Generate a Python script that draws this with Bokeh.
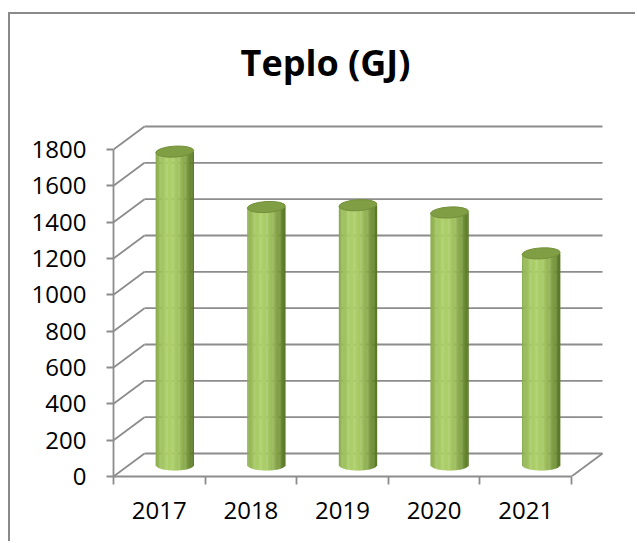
import numpy as np
from bokeh.plotting import figure
from bokeh.models import Range1d, FixedTicker, ColumnDataSource
from bokeh.core.properties import value
from bokeh.embed import file_html
from bokeh.resources import INLINE

# ---- data ----
years = ["2017", "2018", "2019", "2020", "2021"]
values = [1725, 1420, 1430, 1390, 1165]
y_ticks = [0, 200, 400, 600, 800, 1000, 1200, 1400, 1600, 1800]
title_text = "Teplo (GJ)"

# ---- layout (pixels) ----
W, H = 627, 529
MB_L, MB_R, MB_T, MB_B = 103, 32, 10, 67
frame_w = W - MB_L - MB_R
frame_h = H - MB_T - MB_B
PX_CAT = 91.6            # px per category
PY = 327.0 / 1800.0      # px per value unit
x_start = -0.5
x_end = x_start + frame_w / PX_CAT
y_end = frame_h / PY

DX = 31.0 / PX_CAT       # depth offset in x units
DY = 23.0 / PY           # depth offset in y units

TITLE_CX = 315           # title centre, canvas px
TITLE_BASE = 48          # title anchor, canvas px

GRID = "#8c8c8c"

p = figure(width=W, height=H, output_backend="svg", toolbar_location=None,
           x_range=Range1d(x_start, x_end), y_range=Range1d(0, y_end),
           min_border_left=MB_L, min_border_right=MB_R,
           min_border_top=MB_T, min_border_bottom=MB_B)
p.styles = {"border-left": "2px solid #8a8a8a", "border-top": "2px solid #8a8a8a"}
p.margin = (12, 0, 0, 8)
p.outline_line_color = None
p.xgrid.visible = False
p.ygrid.visible = False
p.background_fill_color = "white"
p.border_fill_color = "white"

# ---- title ----
p.text(x=[x_start + (TITLE_CX - MB_L) / PX_CAT],
       y=[(H - MB_B - TITLE_BASE) / PY],
       text=[title_text], text_align="center", text_baseline="alphabetic",
       text_font=value("Open Sans"), text_font_style="bold",
       text_font_size="36px", text_color="black")

# ---- 3D walls ----
n = len(years)
xl = x_start
xr = x_start + n
wall = ColumnDataSource(dict(
    x0=[xl] * len(y_ticks), y0=y_ticks,
    x1=[xl + DX] * len(y_ticks), y1=[v + DY for v in y_ticks]))
p.segment("x0", "y0", "x1", "y1", source=wall, line_color=GRID, line_width=1.8)
back = ColumnDataSource(dict(
    x0=[xl + DX] * len(y_ticks), y0=[v + DY for v in y_ticks],
    x1=[xr + DX] * len(y_ticks), y1=[v + DY for v in y_ticks]))
p.segment("x0", "y0", "x1", "y1", source=back, line_color=GRID, line_width=1.8)
p.segment(x0=[xr], y0=[y_ticks[0]], x1=[xr + DX], y1=[y_ticks[0] + DY],
          line_color=GRID, line_width=1.8)

# ---- cylinders ----
BW = 38.0 / PX_CAT
EH = 11.0  # ellipse height px
N = 32
dark = np.array([0x5a, 0x78, 0x26], float)
light = np.array([0xad, 0xcf, 0x6a], float)

def shade(u):
    f = np.cos((u + 0.25) * np.pi / 2 * 0.85)
    f = max(0.0, f) ** 0.9
    c = dark + (light - dark) * f
    return "#%02x%02x%02x" % tuple(int(round(t)) for t in c)

sx, sb, st, sc = [], [], [], []
centers = [i + DX / 2 for i in range(n)]
base = DY / 2
for c, v in zip(centers, values):
    for k in range(N):
        u = -1 + (2 * k + 1) / N
        sx.append(c + u * BW / 2)
        sb.append(base - (EH / 2 / PY) * np.sqrt(max(0.0, 1 - u * u)))
        st.append(v + base)
        sc.append(shade(u))
strips = ColumnDataSource(dict(x=sx, bottom=sb, top=st, color=sc))
p.vbar(x="x", bottom="bottom", top="top", width=BW / N * 1.3, source=strips,
       fill_color="color", line_color=None)

tops = ColumnDataSource(dict(x=centers, y=[v + base for v in values]))
p.ellipse(x="x", y="y", width=BW * PX_CAT, height=EH, width_units="screen",
          height_units="screen", angle=0.06, source=tops,
          fill_color="#809f44", line_color="#72903a", line_width=1)

# ---- axes ----
p.yaxis.ticker = FixedTicker(ticks=y_ticks)
p.yaxis.bounds = (0, 1800)
p.yaxis.major_tick_out = 7
p.yaxis.major_tick_in = 0
p.yaxis.minor_tick_out = 0
p.yaxis.minor_tick_in = 0
p.yaxis.major_label_standoff = 20

p.xaxis.ticker = FixedTicker(ticks=list(range(n)), minor_ticks=[x_start + i for i in range(n + 1)])
p.xaxis.major_label_overrides = {i: y for i, y in enumerate(years)}
p.xaxis.bounds = (x_start, x_start + n)
p.xaxis.major_tick_out = 0
p.xaxis.major_tick_in = 0
p.xaxis.minor_tick_out = 8
p.xaxis.minor_tick_in = 0
p.xaxis.major_label_standoff = 17

for ax in (p.xaxis[0], p.yaxis[0]):
    ax.axis_line_color = GRID
    ax.axis_line_width = 1.8
    ax.major_tick_line_color = GRID
    ax.major_tick_line_width = 1.8
    ax.minor_tick_line_color = GRID
    ax.minor_tick_line_width = 1.8
    ax.major_label_text_font = "Open Sans"
    ax.major_label_text_font_size = "24px"
    ax.major_label_text_color = "black"

html = file_html(p, INLINE, title=title_text)
html = html.replace("<head>", "<head><style>html,body{overflow:hidden}</style>", 1)
open("out.html", "w").write(html)
